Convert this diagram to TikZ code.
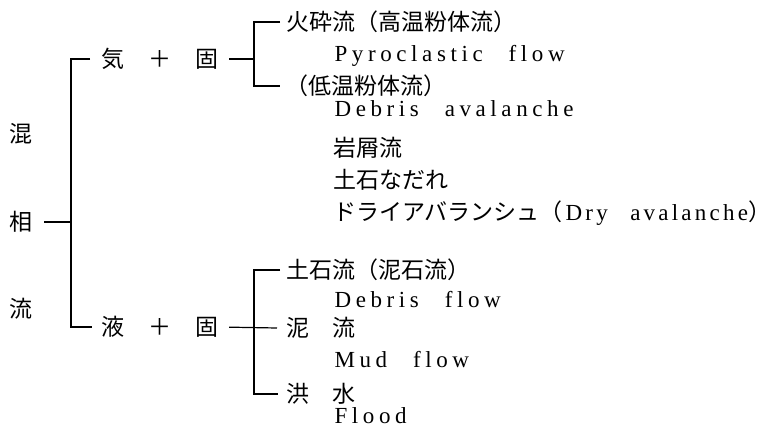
\documentclass[tikz,border=0pt]{standalone}
\usepackage{fontspec}
\setmainfont{Noto Sans CJK JP}
\newfontfamily\latinfont{Liberation Serif}[LetterSpace=20,WordSpace=2.5]
\newfontfamily\latinnarrow{Liberation Serif}[LetterSpace=14,WordSpace=2.5]
\newcommand\jlp{\makebox[23pt][r]{（}}
\newcommand\jrp{\makebox[23pt][l]{）}}

\begin{document}
\begin{tikzpicture}[
      x=1pt,y=-1pt,
      line width=1.2pt,
      kanji/.style={
         inner sep=0pt,
         font=\fontsize{23}{27}\selectfont,
         text height=18.4pt,
         text depth=1.9pt
      },
      item/.style={kanji,anchor=west},
      latin/.style={
         inner sep=0pt,
         anchor=base west,
         font=\fontsize{23}{27}\selectfont\latinfont
      },
      hv path/.style={to path={-| (\tikztotarget)}},
      vh path/.style={to path={|- (\tikztotarget)}}
    ]
    \useasboundingbox (0,0) rectangle (776,433);
    % left column
    \node (n1) [kanji] at (21,134) {混};
    \node (n2) [kanji] at (21,222) {相};
    \node (n3) [kanji] at (21,309) {流};
    \node (g1) [item] at (101,59) {気\hspace{24pt}＋\hspace{24pt}固};
    \node (l1) [item] at (101,327) {液\hspace{24pt}＋\hspace{24pt}固};
    % gas + solid
    \node (k11) [item] at (286,22) {火砕流\jlp 高温粉体流\jrp};
    \node (e11) [latin] at (334,62) {Pyroclastic flow};
    \node (k12) [item] at (285,86) {\jlp 低温粉体流\jrp};
    \node (e12) [latin] at (334,117) {Debris avalanche};
    \node (k13) [item] at (333,148) {岩屑流};
    \node (k14) [item] at (333,180) {土石なだれ};
    \node (k15) [item] at (333,212) {ドライアバランシュ\jlp\hspace{3pt}{\latinnarrow Dry avalanche}\jrp};
    % liquid + solid
    \node (k21) [item] at (286,270) {土石流\jlp 泥石流\jrp};
    \node (e21) [latin] at (334,307) {Debris flow};
    \node (k22) [item] at (286,328) {泥　流};
    \node (e22) [latin] at (334,367) {Mud flow};
    \node (k23) [item] at (286,394) {洪　水};
    \node (e23) [latin] at (334,423) {Flood};
    \coordinate (j1) at (71,222);
    \coordinate (j2) at (254,59);
    \coordinate (j3) at (254,327);
    \draw[shorten <=11pt] (n2.east) -- (j1);
    \draw ([xshift=-11pt]g1.west) to[hv path] (j1);
    \draw (j1) to[vh path] ([xshift=-9pt]l1.west);
    \draw[shorten <=10pt] (g1.east) -- (j2);
    \draw ([xshift=-6pt]k11.west) to[hv path] (j2);
    \draw (j2) to[vh path] ([xshift=-5pt]k12.west);
    \draw[shorten <=10pt] (l1.east) -- ([xshift=-9pt]k22.west);
    \draw ([xshift=-6pt]k21.west) to[hv path] (j3);
    \draw (j3) to[vh path] ([xshift=-8pt]k23.west);
\end{tikzpicture}
\end{document}
